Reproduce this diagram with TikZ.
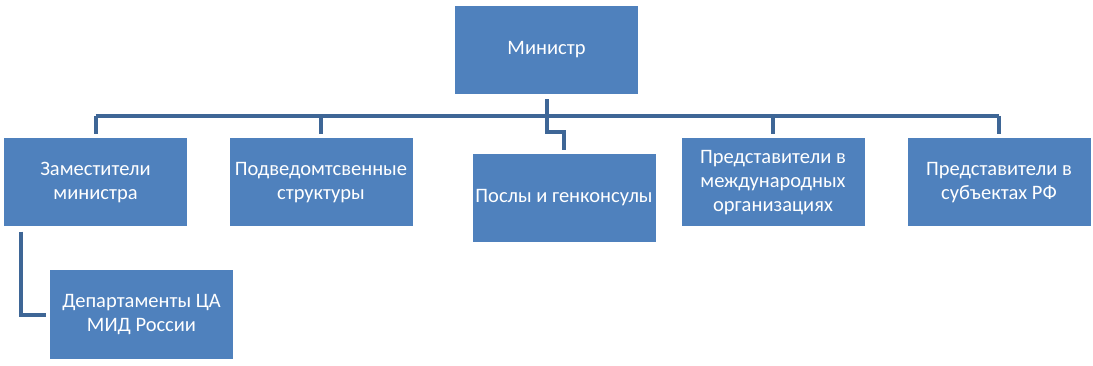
\documentclass[tikz,border=0pt]{standalone}
\usepackage{fontspec}
\setmainfont{Carlito}
\usetikzlibrary{positioning}
\definecolor{boxblue}{RGB}{79,129,189}
\definecolor{lineblue}{RGB}{62,102,150}

\begin{document}
\begin{tikzpicture}[x=1pt,y=-1pt,
  unit/.style={fill=boxblue,text=white,minimum width=183pt,minimum height=88pt,
    inner sep=0pt,align=center,font=\fontsize{20.5}{24}\selectfont},
  conn/.style={draw=lineblue,line width=4pt}]
\useasboundingbox (0,0) rectangle (1093,366);
% boxes
\node[unit] (min) at (546.5,50) {Министр};
\node[unit] (zam) at (95.5,182.5) {Заместители\\министра};
\node[unit] (pod) at (321,182.5) {Подведомтсвенные\\структуры};
\node[unit] (posl) at (564,198) {Послы и генконсулы};
\node[unit] (pred) at (773,182.5) {Представители в\\международных\\организациях};
\node[unit] (sub) at (999,182.5) {Представители в\\субъектах РФ};
\node[unit] (dep) at (141.5,314.5) {Департаменты ЦА\\МИД России};
% connectors
\coordinate (busL) at (zam.north |- 0,116);
\coordinate (busR) at (sub.north |- 0,116);
\draw[conn] (busL) -- (busR);
\foreach \n in {zam,pod,pred,sub}
  \draw[conn,shorten >=4pt] (\n.north |- busL) -- (\n.north);
\draw[conn,shorten <=5pt,shorten >=4pt] (min.south) -- ++(0,38) -| (posl.north);
\draw[conn,shorten <=5pt,shorten >=4pt] ([xshift=17pt]zam.south west) |- (dep.west);
\end{tikzpicture}
\end{document}
